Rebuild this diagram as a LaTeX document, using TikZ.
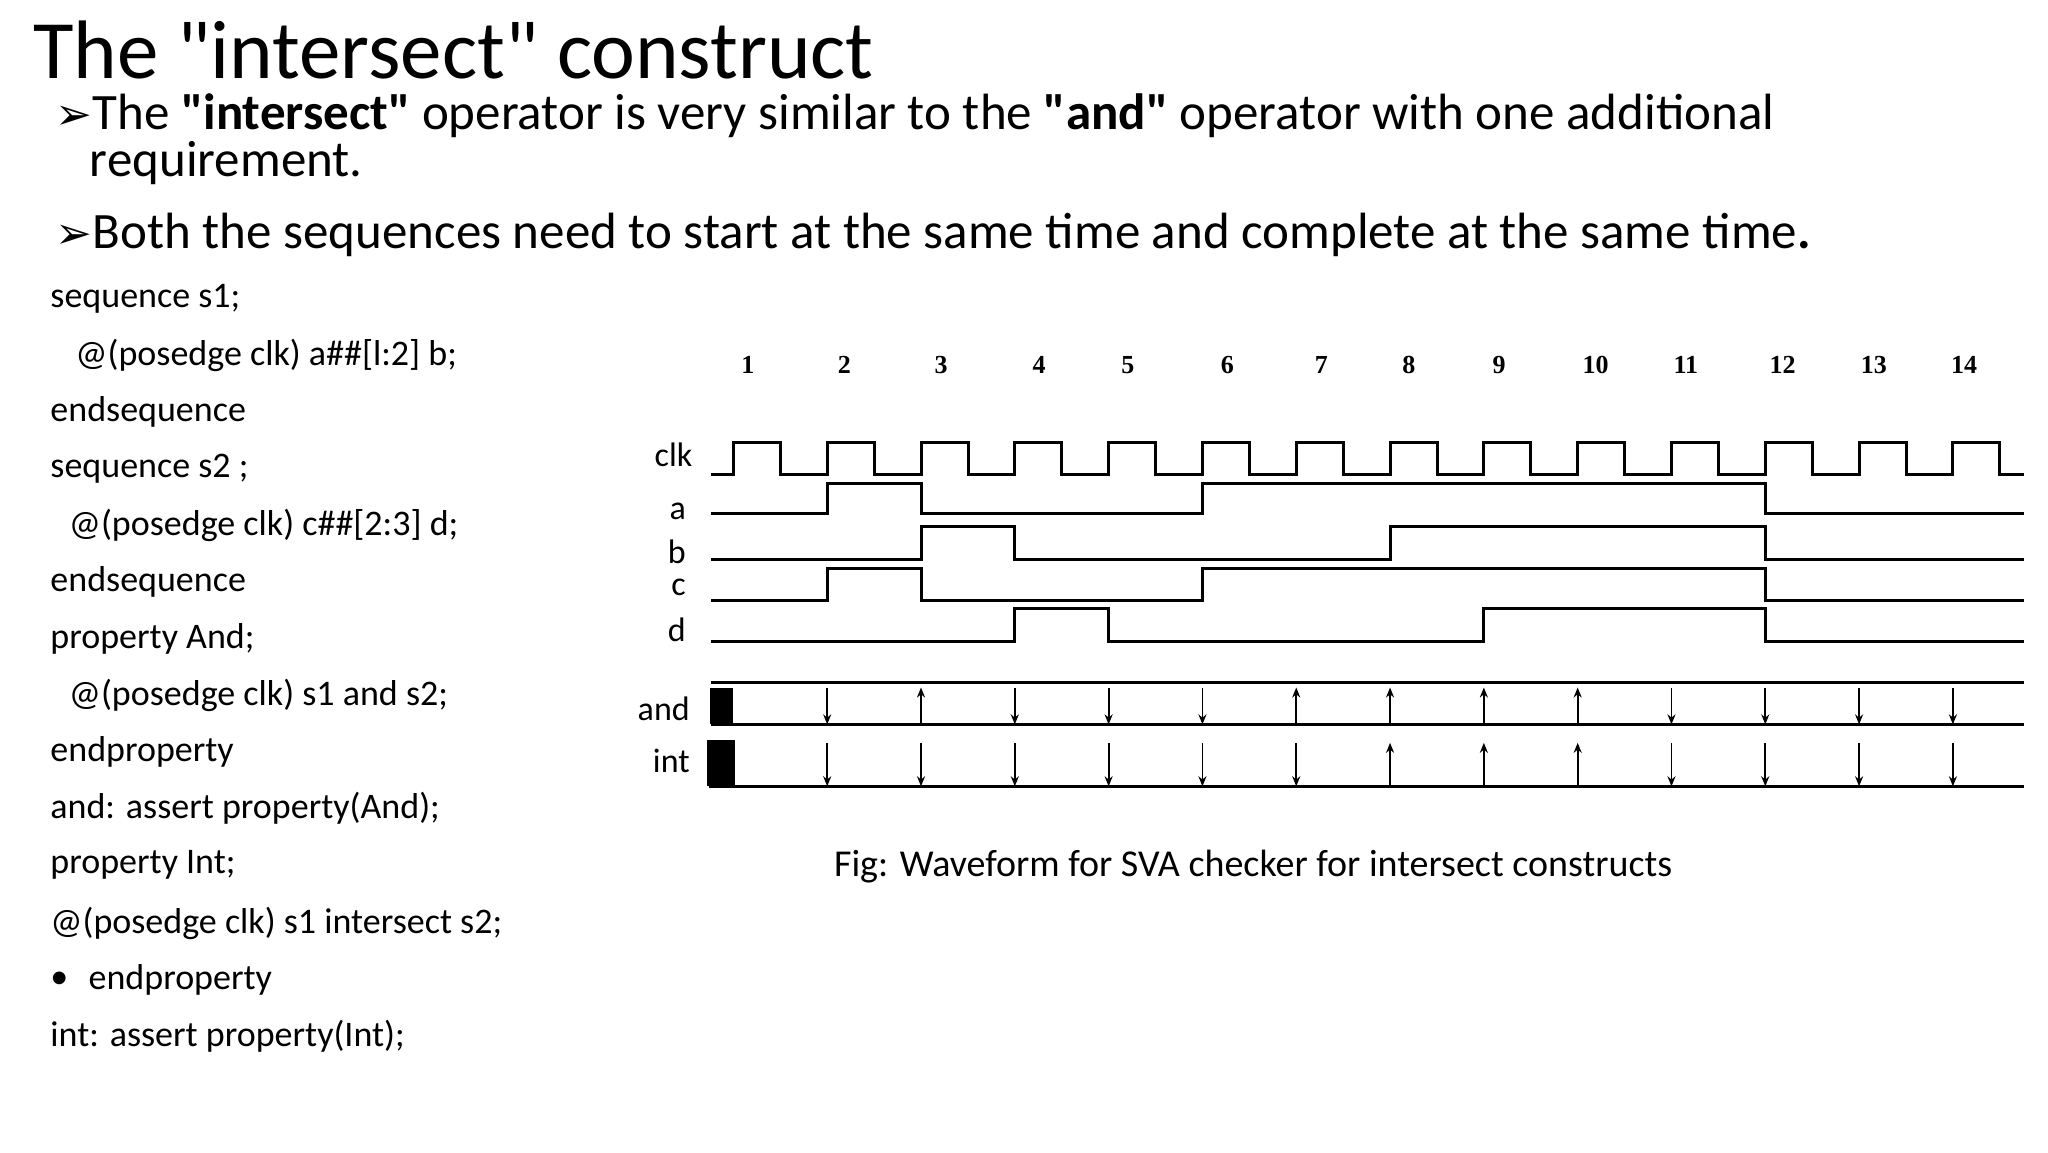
\documentclass[tikz,border=0pt]{standalone}
\usepackage{fontspec}
\setmainfont{Carlito}
\newfontfamily\dv{DejaVu Sans}
\newfontfamily\serifnum{Liberation Serif}
\usetikzlibrary{arrows.meta}
\begin{document}
\begin{tikzpicture}[x=0.6585pt,y=-0.6585pt,
  code/.style={anchor=west,font=\fontsize{18}{20}\selectfont,inner sep=0pt},
  bul/.style={anchor=west,font=\fontsize{25.5}{28}\selectfont,inner sep=0pt},
  sig/.style={anchor=east,font=\fontsize{17}{19}\selectfont,inner sep=0pt},
  num/.style={font=\serifnum\bfseries\fontsize{13}{14}\selectfont,inner sep=0pt},
  wave/.style={line width=1.5pt,line join=miter},
  tick/.style={line width=0.9pt}]
\useasboundingbox (0,0) rectangle (1555,875);
\node[anchor=west,inner sep=0pt,font=\fontsize{41.5}{44}\selectfont] (title) at (25,38) {The \textquotedbl intersect\textquotedbl{} construct};
\node[bul] (b1) at (42,88) {{\dv\fontsize{22}{24}\selectfont ➢}The \textbf{\textquotedbl intersect\textquotedbl} operator is very similar to the \textbf{\textquotedbl and\textquotedbl} operator with one additional};
\node[bul] (b1b) at (68,124) {requirement.};
\node[bul] (b2) at (42,178) {{\dv\fontsize{22}{24}\selectfont ➢}Both the sequences need to start at the same time and complete at the same time\textbf{.}};
\foreach \t/\x/\y [count=\i] in {
 {sequence s1;}/38/227, {@(posedge clk) a\#\#[l:2] b;}/57/270, {endsequence}/38/313,
 {sequence s2 ;}/38/356, {@(posedge clk) c\#\#[2:3] d;}/52/399, {endsequence}/38/442,
 {property And;}/38/485, {@(posedge clk) s1 and s2;}/52/528, {endproperty}/38/571,
 {and: assert property(And);}/38/614, {property Int;}/38/657,
 {@(posedge clk) s1 intersect s2;}/38/701, {endproperty}/67/744,
 {int: assert property(Int);}/38/787}
 \node[code] (c\i) at (\x,\y) {\t};
\node[code] (dot) at (38,744) {•};
% labels
\node[sig] (lclk) at (526,345) {clk};
\node[sig] (la) at (521,388) {a};
\node[sig] (lb) at (521,419) {b};
\node[sig] (lc) at (521,446) {c};
\node[sig] (ld) at (521,478) {d};
\node[sig] (land) at (524,538) {and};
\node[sig] (lint) at (524,578) {int};
\begin{scope}[xshift=4.3*0.6585pt,xscale=0.992]
% numbers
\foreach \n/\x in {1/568,2/642,3/716,4/791,5/859,6/935,7/1007,8/1074,9/1143,10/1217,11/1286,12/1360,13/1430,14/1499}
 \node[num] (n\n) at (\x,277) {\n};
\def\P{71.8}
% clk
\draw[wave] (540,360) -- (557,360)
 \foreach \k in {0,...,12}{ -- ({557+\k*\P},336) -- ({593+\k*\P},336) -- ({593+\k*\P},360) -- ({557+(\k+1)*\P},360)}
 -- ({557+13*\P},336) -- ({593+13*\P},336) -- ({593+13*\P},360) -- (1545,360);
\pgfmathsetmacro{\rA}{557+1*\P}\pgfmathsetmacro{\rB}{557+2*\P}\pgfmathsetmacro{\rC}{557+3*\P}
\pgfmathsetmacro{\rD}{557+4*\P}\pgfmathsetmacro{\rE}{557+5*\P}\pgfmathsetmacro{\rG}{557+7*\P}
\pgfmathsetmacro{\rH}{557+8*\P}\pgfmathsetmacro{\rK}{557+11*\P}
\draw[wave] (540,390) -- (\rA,390) -- (\rA,367) -- (\rB,367) -- (\rB,390) -- (\rE,390) -- (\rE,367) -- (\rK,367) -- (\rK,390) -- (1545,390);
\draw[wave] (540,425) -- (\rB,425) -- (\rB,400) -- (\rC,400) -- (\rC,425) -- (\rG,425) -- (\rG,400) -- (\rK,400) -- (\rK,425) -- (1545,425);
\draw[wave] (540,456) -- (\rA,456) -- (\rA,432) -- (\rB,432) -- (\rB,456) -- (\rE,456) -- (\rE,432) -- (\rK,432) -- (\rK,456) -- (1545,456);
\draw[wave] (540,487) -- (\rC,487) -- (\rC,462) -- (\rD,462) -- (\rD,487) -- (\rH,487) -- (\rH,462) -- (\rK,462) -- (\rK,487) -- (1545,487);
% and
\draw[wave] (540,518) -- (1545,518);
\draw[wave] (540,550) -- (1545,550);
\fill (539,522) rectangle (557,550);
\foreach \k in {1,...,13}{
 \pgfmathsetmacro{\xx}{557+\k*\P}
 \ifnum\k=2 \draw[tick,-{Stealth[length=5pt,width=4pt]}] (\xx,550) -- (\xx,522);
 \else\ifnum\k>5 \ifnum\k<10 \draw[tick,-{Stealth[length=5pt,width=4pt]}] (\xx,550) -- (\xx,522);
 \else \draw[tick,-{Stealth[length=5pt,width=4pt]}] (\xx,522) -- (\xx,550); \fi
 \else \draw[tick,-{Stealth[length=5pt,width=4pt]}] (\xx,522) -- (\xx,550); \fi\fi}
% int
\draw[wave] (538,597) -- (1545,597);
\fill (537,562) rectangle (558,597);
\foreach \k in {1,...,13}{
 \pgfmathsetmacro{\xx}{557+\k*\P}
 \ifnum\k>6 \ifnum\k<10 \draw[tick,-{Stealth[length=5pt,width=4pt]}] (\xx,597) -- (\xx,564);
 \else \draw[tick,-{Stealth[length=5pt,width=4pt]}] (\xx,564) -- (\xx,597); \fi
 \else \draw[tick,-{Stealth[length=5pt,width=4pt]}] (\xx,564) -- (\xx,597); \fi}
\end{scope}
\node[anchor=west,inner sep=0pt,font=\fontsize{19}{21}\selectfont] (cap) at (633,658) {Fig: Waveform for SVA checker for intersect constructs};
\end{tikzpicture}
\end{document}
